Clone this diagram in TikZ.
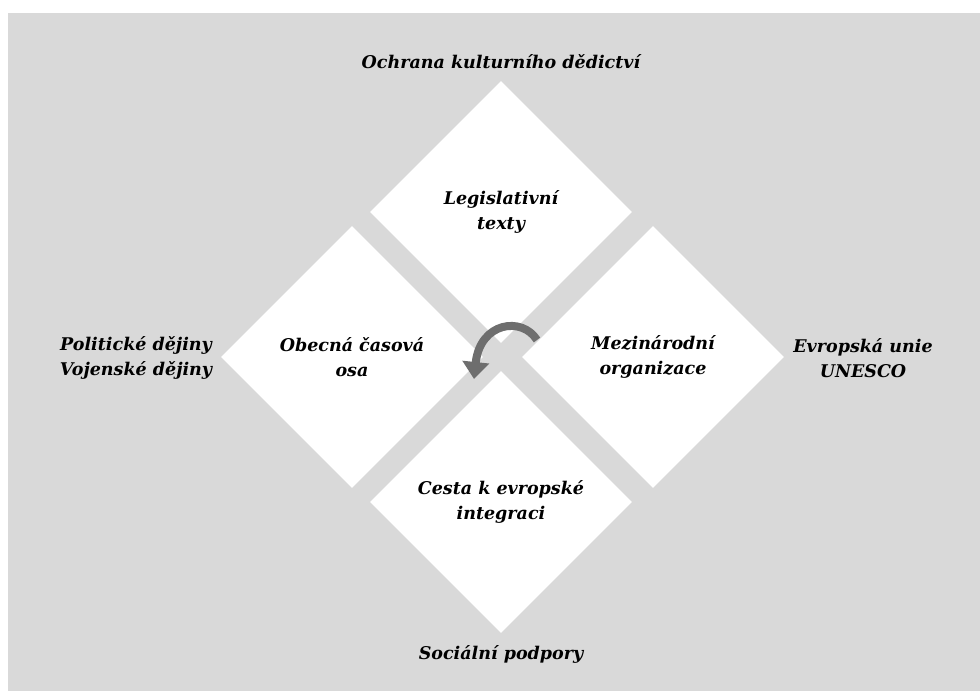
\documentclass[tikz,border=0pt]{standalone}
\usepackage{fontspec}
\setmainfont{DejaVu Serif}
\usetikzlibrary{shapes.geometric, positioning, arrows.meta}
\definecolor{bggray}{HTML}{D9D9D9}
\definecolor{arrowgray}{HTML}{6E6E6E}
\tikzset{
    tile/.style={
        diamond,
        fill=white,
        minimum width=262pt,
        minimum height=262pt,
        inner sep=0pt,
        align=center,
        font=\fontsize{17.5}{25}\selectfont\bfseries\itshape,
    },
    outer/.style={
        align=center,
        inner sep=0pt,
        font=\fontsize{17.5}{25}\selectfont\bfseries\itshape,
    }
}

\begin{document}
\begin{tikzpicture}[x=1pt, y=-1pt]
        \useasboundingbox (0,0) rectangle (980,691);
        \fill[bggray] (8,13) rectangle (980,691);
        \node[tile] (legis) at (501,212) {Legislativní\\texty};
        \node[tile] (osa) at (352,357) {Obecná časová\\osa};
        \node[tile] (mezi) at (653,357) {Mezinárodní\\organizace};
        \node[tile] (cesta) at (501,502) {Cesta k evropské\\integraci};
        \node[outer] (ochrana) at (501,62) {Ochrana kulturního dědictví};
        \node[outer] (dejiny) at (136,358) {Politické dějiny\\Vojenské dějiny};
        \node[outer] (unie) at (863,358) {Evropská unie\\UNESCO};
        \node[outer] (podpory) at (501,654) {Sociální podpory};
        \coordinate (arrS) at (537,340);
        \coordinate (arrE) at (474,379);
        \draw[arrowgray, line width=8pt, -{Triangle[width=26pt,length=17pt]}]
            (arrS) .. controls (522,316) and (480,322) .. (arrE);
\end{tikzpicture}
\end{document}
